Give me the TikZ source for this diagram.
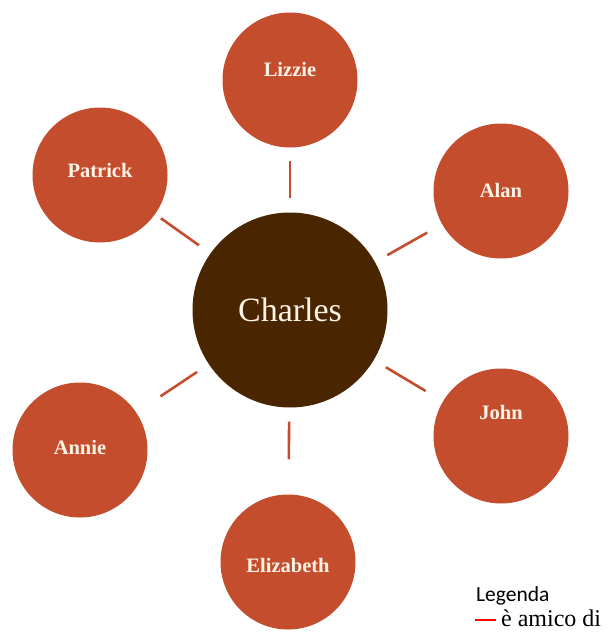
\documentclass[tikz,border=0pt]{standalone}
\usepackage{fontspec}
\setmainfont{Liberation Serif}
\newfontfamily\legendfont{Carlito}
\definecolor{rust}{RGB}{196,77,46}
\definecolor{darkbrown}{RGB}{74,38,0}
\definecolor{cream}{RGB}{255,244,230}
\begin{document}
\begin{tikzpicture}[x=1pt,y=-1pt,
  friend/.style={circle,fill=rust,minimum size=135pt,inner sep=0pt},
  friendname/.style={text=cream,font=\bfseries\fontsize{20.5}{24}\selectfont},
  tie/.style={rust,line width=2.6pt,shorten <=14pt}]
\useasboundingbox (0,0) rectangle (614,632);
\clip (0,0) rectangle (614,632);
\node[circle,fill=darkbrown,minimum size=195pt,text=cream,font=\fontsize{34}{38}\selectfont] (charles) at (290,310) {Charles};
\node[friend,label={[friendname,yshift=11pt]center:Lizzie}] (lizzie) at (290,80) {};
\node[friend,label={[friendname,yshift=1pt]center:Alan}] (alan) at (501,191) {};
\node[friend,label={[friendname,yshift=24pt]center:John}] (john) at (501,436) {};
\node[friend,label={[friendname,yshift=-3pt]center:Elizabeth}] (elizabeth) at (288,562) {};
\node[friend,label={[friendname,yshift=3pt]center:Annie}] (annie) at (80,450) {};
\node[friend,label={[friendname,yshift=5pt]center:Patrick}] (patrick) at (100,175) {};
\draw[tie,shorten >=13pt] (charles) -- (lizzie);
\draw[tie,shorten >=17pt] (charles) -- (alan);
\draw[tie,shorten >=20pt] (charles) -- (john);
\draw[tie,shorten >=35pt] (charles) -- (elizabeth);
\draw[tie,shorten >=29pt] (charles) -- (annie);
\draw[tie,shorten >=7pt] (charles) -- (patrick);
\node[anchor=base west,inner sep=0pt,font=\legendfont\fontsize{21.5}{26}\selectfont] (legenda) at (476,601) {Legenda};
\node[anchor=base west,inner sep=0pt,font=\fontsize{24}{28}\selectfont] (key) at (475,626) {\textcolor{red}{\rule[5pt]{21pt}{2.4pt}}\hspace{5pt}è amico di};
\end{tikzpicture}
\end{document}
